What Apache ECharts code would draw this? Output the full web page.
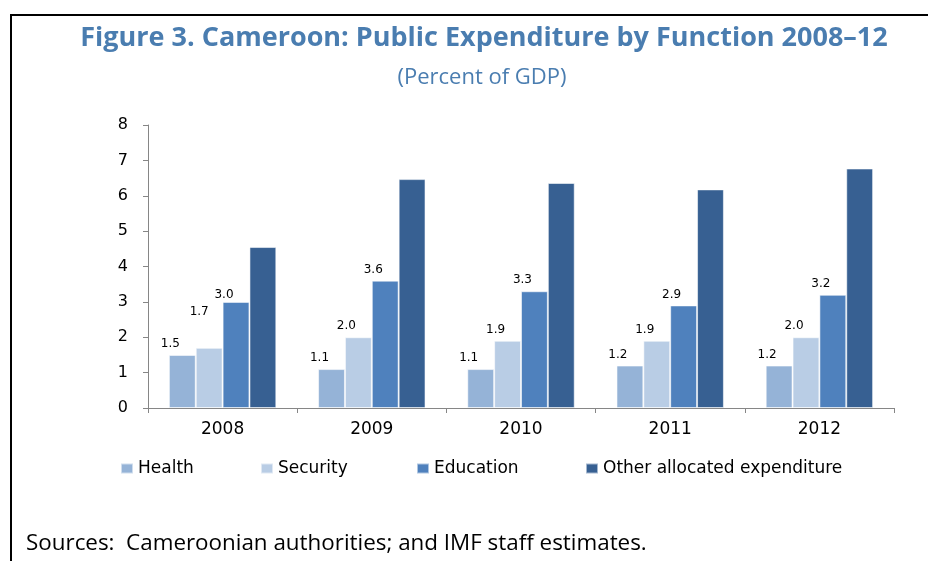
<!DOCTYPE html>
<html>
<head>
<meta charset="utf-8">
<script src="https://cdn.jsdelivr.net/npm/echarts@6/dist/echarts.min.js"></script>
<style>
  html, body { margin: 0; padding: 0; background: #fff; }
  #chart { width: 928px; height: 561px; }
</style>
</head>
<body>
<div id="chart"></div>
<script>
// Public expenditure by function, percent of GDP
const years = ['2008', '2009', '2010', '2011', '2012'];
const health = [1.5, 1.1, 1.1, 1.2, 1.2];
const security = [1.7, 2.0, 1.9, 1.9, 2.0];
const education = [3.0, 3.6, 3.3, 2.9, 3.2];
const otherAllocated = [4.55, 6.47, 6.36, 6.18, 6.77];
const yTicks = [0, 1, 2, 3, 4, 5, 6, 7, 8];

const seriesNames = ['Health', 'Security', 'Education', 'Other allocated expenditure'];
const seriesColors = ['#95B3D7', '#B9CDE5', '#4F81BD', '#376092'];
const seriesValues = [health, security, education, otherAllocated];
const labelled = [true, true, true, false];

const titleBlue = '#4A7DB0';
const axisFont = 'DejaVu Sans, Verdana, sans-serif';

// per-point nudges for a few value labels that sit higher/lower than the rest
const labelNudge = { '1-0': [-10, -25], '2-0': [-12, 4] };

const chart = echarts.init(document.getElementById('chart'), null, { renderer: 'canvas' });

const series = seriesValues.map((vals, si) => ({
  name: seriesNames[si],
  type: 'bar',
  barGap: '0%',
  barCategoryGap: '28%',
  itemStyle: { color: seriesColors[si], borderColor: 'rgba(255,255,255,0.55)', borderWidth: 1 },
  label: {
    show: labelled[si],
    position: 'top',
    offset: [-12, 0],
    distance: 5,
    color: '#000',
    fontFamily: axisFont,
    fontSize: 12,
    formatter: p => p.value.toFixed(1)
  },
  data: vals.map((v, i) => {
    const nudge = labelNudge[si + '-' + i];
    return nudge ? { value: v, label: { offset: nudge } } : v;
  })
}));

const legendLeft = [120, 260, 416, 585];
const legends = seriesNames.map((n, i) => ({
  data: [n],
  left: legendLeft[i],
  top: 460,
  padding: 0,
  icon: 'rect',
  itemWidth: 12,
  itemHeight: 10,
  itemGap: 5,
  selectedMode: false,
  textStyle: { fontFamily: axisFont, fontSize: 17, color: '#000' }
}));

chart.setOption({
  animation: false,
  backgroundColor: '#fff',
  title: [
    {
      text: 'Figure 3. Cameroon: Public Expenditure by Function 2008\u201312',
      left: 479,
      top: 20,
      textAlign: 'center',
      textStyle: { fontFamily: 'Open Sans', fontWeight: 'bold', fontSize: 27, color: titleBlue }
    },
    {
      text: '(Percent of GDP)',
      left: 477,
      top: 62,
      textAlign: 'center',
      textStyle: { fontFamily: 'Open Sans', fontWeight: 'normal', fontSize: 22, color: titleBlue }
    }
  ],
  legend: legends,
  grid: { left: 148, right: 34, top: 125, bottom: 153, containLabel: false },
  xAxis: {
    type: 'category',
    data: years,
    axisLine: { show: true, lineStyle: { color: '#868686', width: 1 } },
    axisTick: { show: true, length: 5, lineStyle: { color: '#868686' } },
    axisLabel: { margin: 13, color: '#000', fontFamily: axisFont, fontSize: 17 }
  },
  yAxis: {
    type: 'value',
    min: yTicks[0],
    max: yTicks[yTicks.length - 1],
    interval: 1,
    splitLine: { show: false },
    axisLine: { show: true, lineStyle: { color: '#868686', width: 1 } },
    axisTick: { show: true, length: 5, lineStyle: { color: '#868686' } },
    axisLabel: { margin: 20, color: '#000', fontFamily: axisFont, fontSize: 16 }
  },
  series: series,
  graphic: [
    { type: 'line', shape: { x1: 10, y1: 15, x2: 928, y2: 15 }, style: { stroke: '#000', lineWidth: 2 } },
    { type: 'line', shape: { x1: 11, y1: 14, x2: 11, y2: 561 }, style: { stroke: '#000', lineWidth: 2 } },
    {
      type: 'text',
      left: 26,
      top: 533,
      style: {
        text: 'Sources:  Cameroonian authorities; and IMF staff estimates.',
        font: '22.4px "Open Sans", sans-serif',
        fill: '#000'
      }
    }
  ]
});
</script>
</body>
</html>
